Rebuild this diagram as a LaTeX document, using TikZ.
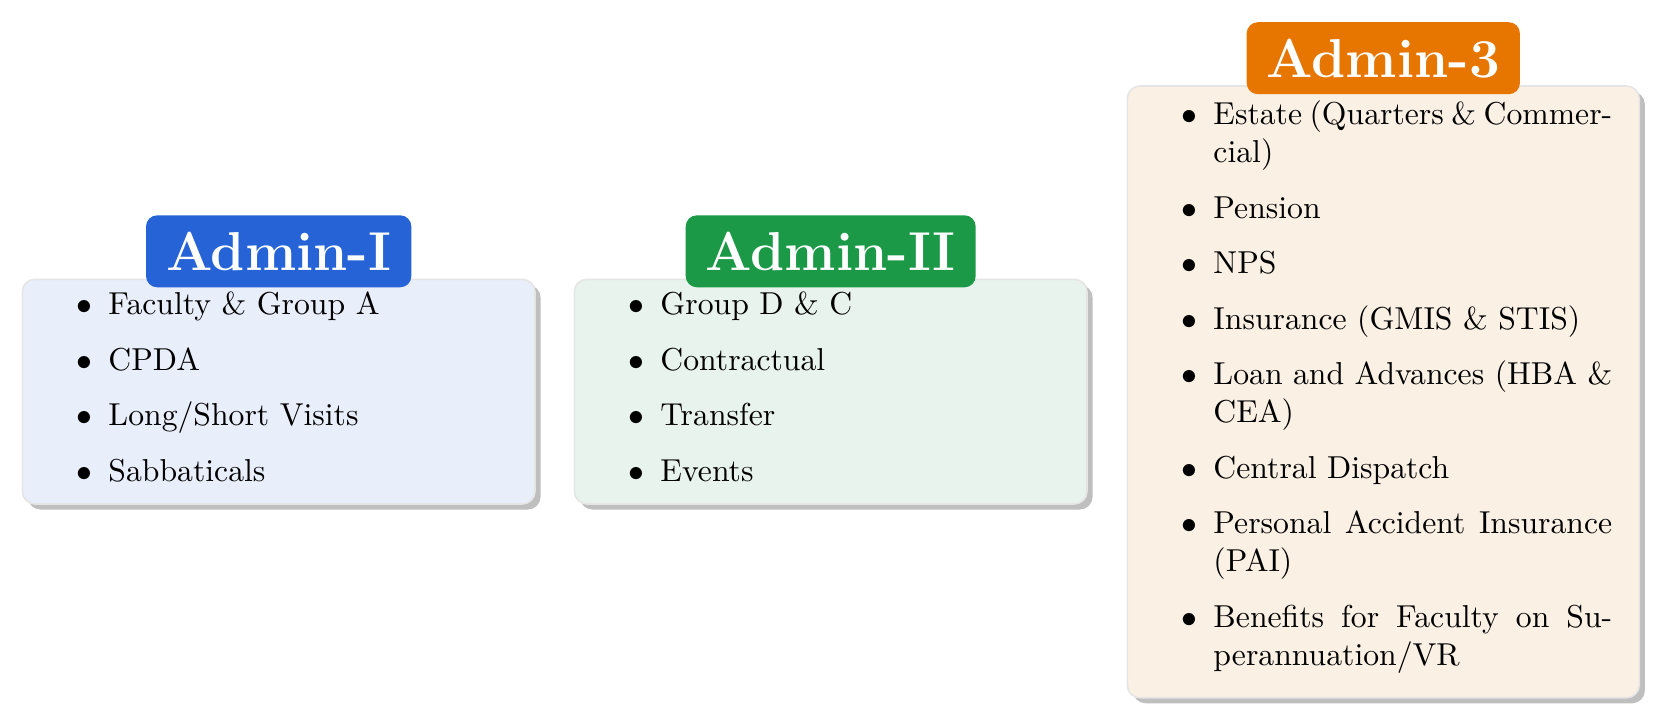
\documentclass[tikz,border=0pt]{standalone}
\usetikzlibrary{shadows}
\definecolor{hdblue}{RGB}{37,99,214}
\definecolor{hdgreen}{RGB}{27,153,71}
\definecolor{hdorange}{RGB}{230,118,0}
\definecolor{bgblue}{RGB}{232,238,250}
\definecolor{bggreen}{RGB}{231,243,236}
\definecolor{bgorange}{RGB}{250,240,228}
\renewcommand\labelitemi{$\bullet$}
\newcommand\boxitems[1]{\begin{itemize}\setlength\itemsep{5.5pt}\setlength\parskip{0pt}#1\end{itemize}}
\tikzset{
  panel/.style={fill=#1, draw=black!10, line width=0.5pt, rounded corners=4pt,
    anchor=north west, inner sep=0pt, outer sep=0pt,
    drop shadow={shadow xshift=1.75pt, shadow yshift=-1.75pt, fill=black!25, opacity=1}},
  header/.style={fill=#1, text=white, font=\LARGE\bfseries, rounded corners=3.5pt,
    inner xsep=6.3pt, inner ysep=5.35pt, text height=12pt, text depth=0pt},
  itemtext/.style={anchor=base west, inner sep=0pt, text width=150.8pt, align=justify}
}
\begin{document}
\begin{tikzpicture}[x=0.31546pt, y=-0.31546pt]
\useasboundingbox (0,0) rectangle (1662,721);
\node[panel=bgblue, minimum width=161.74pt, minimum height=70.88pt] (b1) at (22.3,279.3) {};
\node[panel=bggreen, minimum width=161.74pt, minimum height=70.88pt] (b2) at (574.3,279.3) {};
\node[panel=bgorange, minimum width=161.52pt, minimum height=192.97pt] (b3) at (1127.3,86) {};
\node[header=hdblue] (h1) at (278.7,251.3) {Admin-I};
\node[header=hdgreen] (h2) at (830.7,251.3) {Admin-II};
\node[header=hdorange] (h3) at (1383.3,58.2) {Admin-3};
\node[itemtext] (t1) at (28.6,251.4) {\boxitems{\item Faculty \& Group A \item CPDA \item Long/Short Visits \item Sabbaticals}};
\node[itemtext] (t2) at (580.6,251.4) {\boxitems{\item Group D \& C \item Contractual \item Transfer \item Events}};
\node[itemtext] (t3) at (1133.6,61.4) {\boxitems{\item Estate (Quarters \& Commercial) \item Pension \item NPS \item Insurance (GMIS \& STIS) \item Loan and Advances (HBA \& CEA) \item Central Dispatch \item Personal Accident Insurance (PAI) \item Benefits for Faculty on Superannuation/VR}};
\end{tikzpicture}
\end{document}
